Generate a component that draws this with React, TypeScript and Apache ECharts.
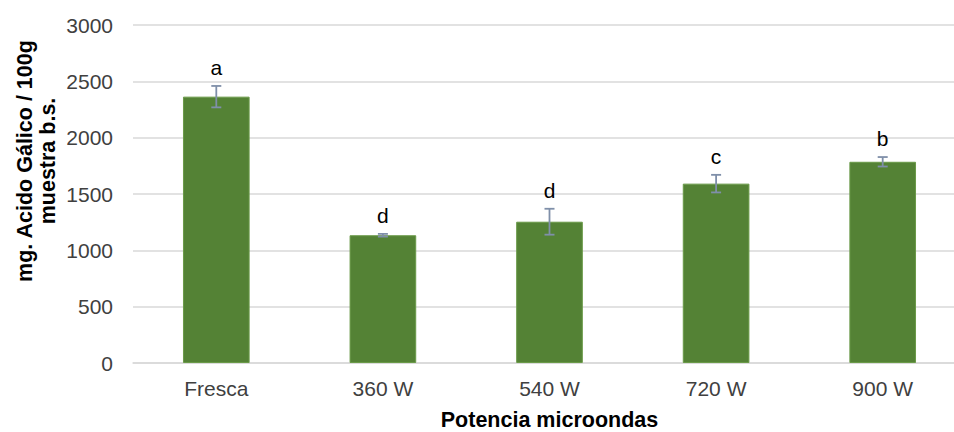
import React, { useEffect, useRef } from "react";
import * as echarts from "echarts";

// Total phenolics (mg gallic acid / 100 g dry basis) by microwave power
const categories = ["Fresca", "360 W", "540 W", "720 W", "900 W"];
const means = [2364, 1134, 1254, 1592, 1786];
const errors = [95, 12, 115, 78, 42];
const letters = ["a", "d", "d", "c", "b"];
const yTicks = { min: 0, max: 3000, interval: 500 };

const FONT = '"Liberation Sans", Arial, sans-serif';

export default function App() {
  const ref = useRef<HTMLDivElement>(null);

  useEffect(() => {
    if (!ref.current) return;
    const chart = echarts.init(ref.current, undefined, { renderer: "svg" });

    const errData = means.map((m, i) => [i, m - errors[i], m + errors[i], i]);

    chart.setOption({
      animation: false,
      textStyle: { fontFamily: FONT },
      grid: { left: 133, right: 0, top: 25, bottom: 69, containLabel: false, outerBoundsMode: "none" },
      xAxis: {
        type: "category",
        data: categories,
        axisTick: { show: false },
        axisLine: { lineStyle: { color: "#D9D9D9", width: 1.5 } },
        axisLabel: { color: "#404040", fontSize: 21, margin: 15, fontFamily: FONT },
        name: "Potencia microondas",
        nameLocation: "middle",
        nameGap: 47,
        nameTextStyle: {
          color: "#000",
          fontSize: 21.5,
          fontWeight: "bold",
          fontFamily: FONT,
          lineHeight: 19,
        },
      },
      yAxis: {
        type: "value",
        min: yTicks.min,
        max: yTicks.max,
        interval: yTicks.interval,
        axisLine: { show: false },
        axisTick: { show: false },
        axisLabel: {
          color: "#404040",
          fontSize: 21,
          margin: 20,
          fontFamily: FONT,
          formatter: (v: number) => String(v),
        },
        splitLine: { lineStyle: { color: "#D9D9D9", width: 1.5 } },
      },
      graphic: [
        {
          type: "text",
          x: 36.5,
          y: 161,
          rotation: Math.PI / 2,
          style: {
            text: "mg. Acido Gálico / 100g\nmuestra b.s.",
            fontFamily: FONT,
            fontSize: 21.5,
            fontWeight: "bold",
            fill: "#000",
            align: "center",
            verticalAlign: "middle",
            lineHeight: 23,
          },
        },
      ],
      series: [
        {
          type: "bar",
          data: means,
          barWidth: "40%",
          itemStyle: { color: "#548235", borderColor: "#6A9A48", borderWidth: 1 },
        },
        {
          type: "custom",
          data: errData,
          encode: { x: 0, y: [1, 2] },
          z: 10,
          renderItem: (params: any, api: any) => {
            const idx = api.value(3);
            const lo = api.coord([api.value(0), api.value(1)]);
            const hi = api.coord([api.value(0), api.value(2)]);
            const x = lo[0];
            const half = 5;
            const stroke = { stroke: "#7F8FA9", lineWidth: 1.8 };
            return {
              type: "group",
              children: [
                { type: "line", shape: { x1: x, y1: lo[1], x2: x, y2: hi[1] }, style: stroke },
                { type: "line", shape: { x1: x - half, y1: lo[1], x2: x + half, y2: lo[1] }, style: stroke },
                { type: "line", shape: { x1: x - half, y1: hi[1], x2: x + half, y2: hi[1] }, style: stroke },
                {
                  type: "text",
                  x: x,
                  y: hi[1] - 8,
                  style: {
                    text: letters[idx],
                    fontFamily: FONT,
                    fontSize: 21,
                    fill: "#000",
                    align: "center",
                    verticalAlign: "bottom",
                  },
                },
              ],
            };
          },
        },
      ],
    });

    return () => chart.dispose();
  }, []);

  return (
    <div style={{ position: "fixed", left: 0, top: 0, width: 954, height: 432, overflow: "hidden", background: "#fff" }}>
      <div ref={ref} style={{ width: 966, height: 432 }} />
    </div>
  );
}
